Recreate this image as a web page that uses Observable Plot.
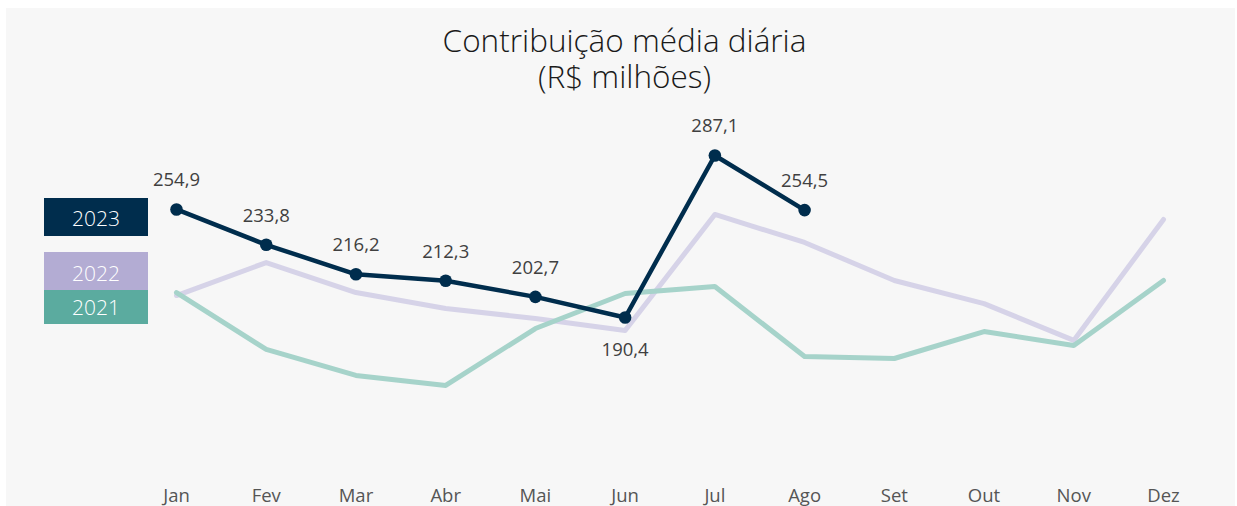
<!DOCTYPE html>
<html>
<head>
<meta charset="utf-8">
<script src="https://cdn.jsdelivr.net/npm/d3@7"></script>
<script src="https://cdn.jsdelivr.net/npm/@observablehq/plot@0.6"></script>
<style>
  html, body { margin: 0; padding: 0; background: #ffffff; }
  #wrap { position: relative; width: 1237px; height: 506px; overflow: hidden; font-family: "Open Sans", Lato, sans-serif; }
  #bg { position: absolute; left: 6px; top: 8px; width: 1229px; height: 498px; background: #f7f7f7; }
  #chart { position: absolute; left: 0; top: 0; }
  .title { position: absolute; left: 0; width: 1249px; text-align: center; font-size: 31.5px; font-weight: 300; line-height: 32px; height: 32px; color: #1a1a1a; }
  .leg { position: absolute; left: 44px; width: 104px; color: #ffffff; font-size: 21px; font-weight: 300; text-align: center; }
</style>
</head>
<body>
<div id="wrap">
  <div id="bg"></div>
  <div id="chart"></div>
  <div class="title" style="top:24px;">Contribuição média diária</div>
  <div class="title" style="top:60px;">(R$ milhões)</div>
  <div class="leg" style="top:198px;height:38px;line-height:40px;background:#002d4d;">2023</div>
  <div class="leg" style="top:252px;height:38px;line-height:42px;background:#b3acd3;">2022</div>
  <div class="leg" style="top:290px;height:34px;line-height:34px;background:#5bab9f;">2021</div>
</div>
<script>
const months = ["Jan","Fev","Mar","Abr","Mai","Jun","Jul","Ago","Set","Out","Nov","Dez"];
const v2021 = [205.3, 171.3, 155.8, 149.8, 183.8, 204.7, 208.9, 167.1, 165.9, 182.0, 173.7, 212.5];
const v2022 = [203.5, 223.2, 205.3, 195.8, 189.8, 182.6, 251.9, 235.2, 212.5, 198.7, 176.7, 248.9];
const v2023 = [254.9, 233.8, 216.2, 212.3, 202.7, 190.4, 287.1, 254.5];
const labelBelow = ["Jun"];

const d21 = months.map((m, i) => ({month: m, value: v2021[i]}));
const d22 = months.map((m, i) => ({month: m, value: v2022[i]}));
const d23 = v2023.map((v, i) => ({month: months[i], value: v}));
const fmt = v => v.toFixed(1).replace(".", ",");

const chart = Plot.plot({
  width: 1237,
  height: 506,
  marginTop: 133.4,
  marginBottom: 37.6,
  marginLeft: 176,
  marginRight: 74,
  style: {background: "transparent", fontFamily: "'Open Sans', Lato, sans-serif"},
  x: {type: "point", domain: months, padding: 0, round: false, axis: null},
  y: {domain: [100, 300], axis: null},
  marks: [
    Plot.line(d22, {x: "month", y: "value", stroke: "#d6d3e8", strokeWidth: 5}),
    Plot.line(d21, {x: "month", y: "value", stroke: "#a6d3ca", strokeWidth: 5}),
    Plot.line(d23, {x: "month", y: "value", stroke: "#002d4d", strokeWidth: 4.5}),
    Plot.dot(d23, {x: "month", y: "value", fill: "#002d4d", r: 6.3}),
    Plot.text(d23.filter(d => !labelBelow.includes(d.month)), {x: "month", y: "value", text: d => fmt(d.value),
      dy: -29, fontSize: 18.5, fill: "#404040"}),
    Plot.text(d23.filter(d => labelBelow.includes(d.month)), {x: "month", y: "value", text: d => fmt(d.value),
      dy: 33, fontSize: 18.5, fill: "#404040"}),
    Plot.text(months, {x: d => d, frameAnchor: "bottom", dy: 33, text: d => d, fontSize: 18.5, fill: "#555555"})
  ]
});
document.getElementById("chart").appendChild(chart);
</script>
</body>
</html>
